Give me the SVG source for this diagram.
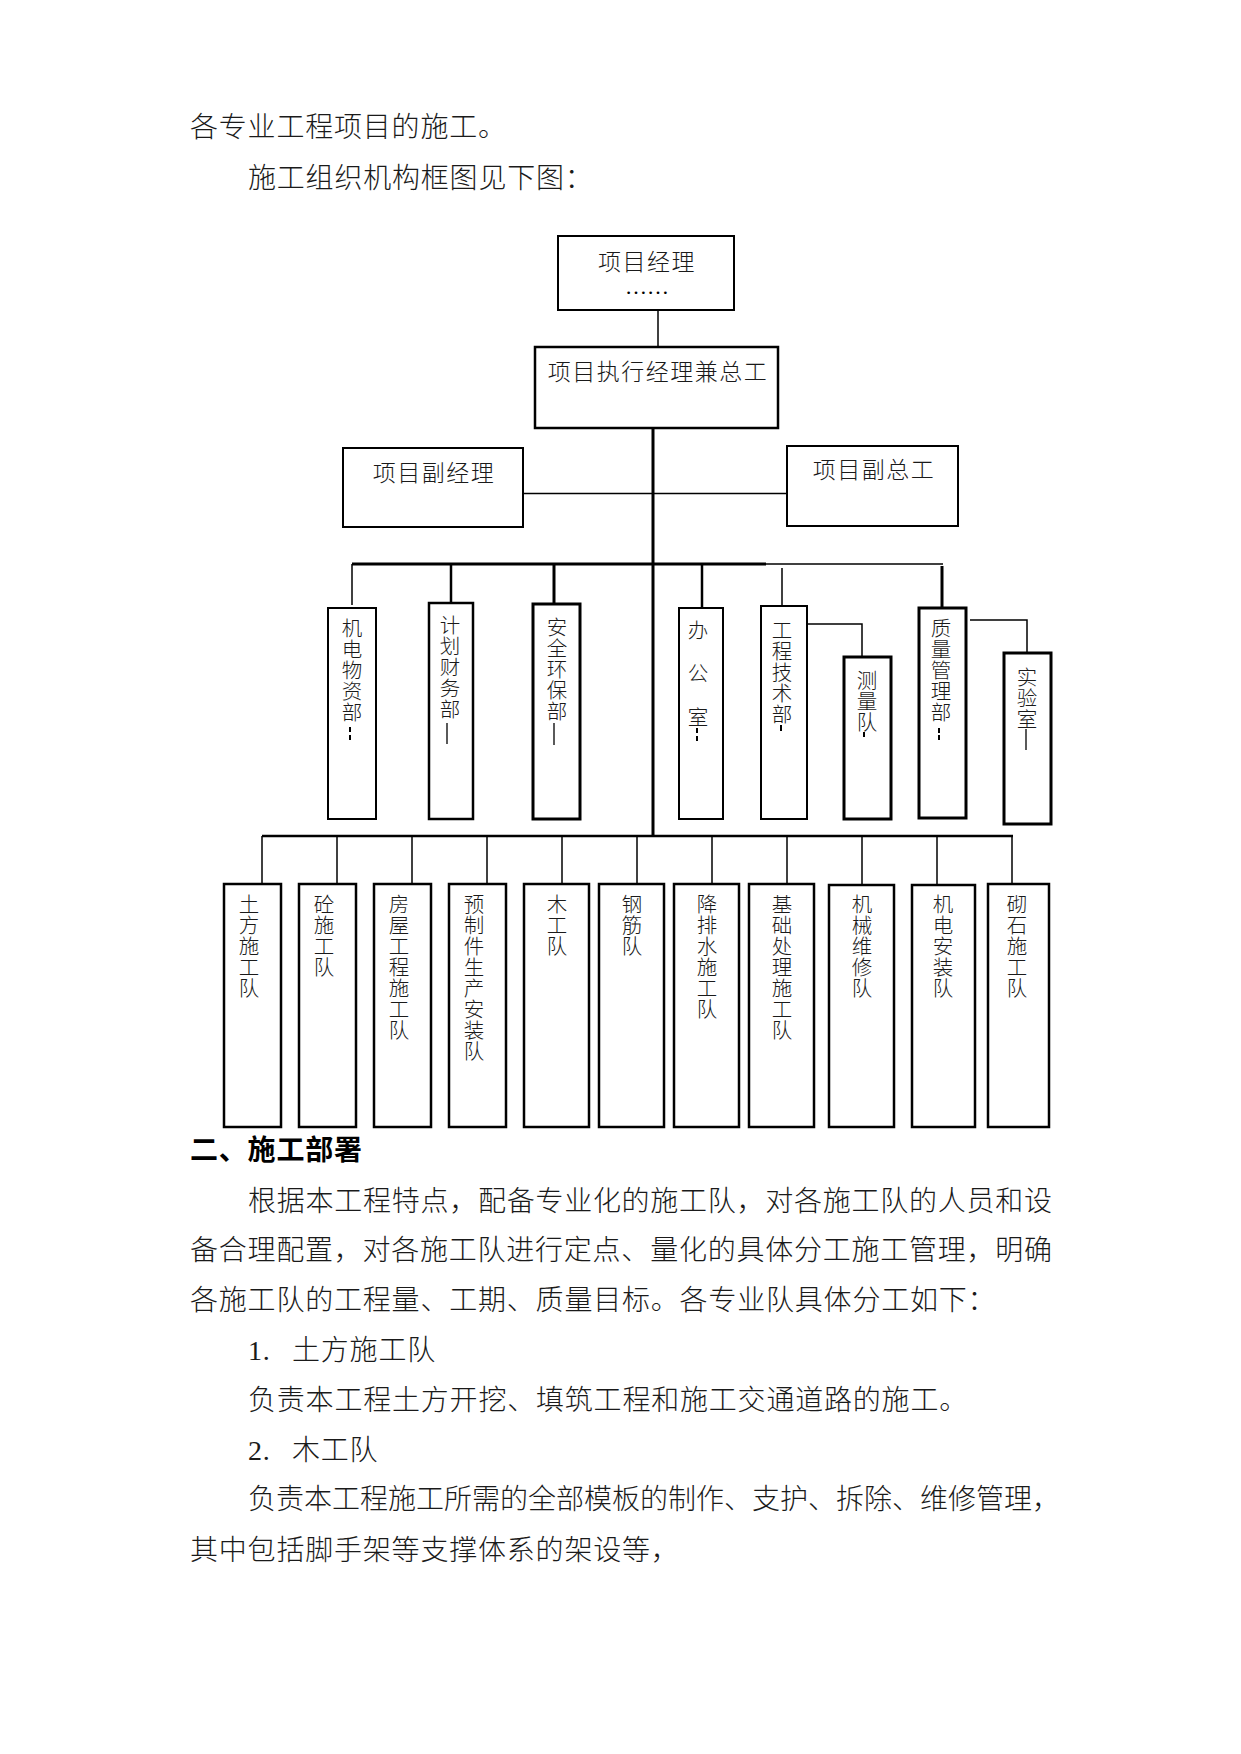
<svg xmlns="http://www.w3.org/2000/svg" width="1241" height="1754" viewBox="0 0 1241 1754">
<style>
.bg{fill:#fff}
.box{fill:#fff;stroke:#000;stroke-width:2}
.b25{stroke-width:2.5}
.b3{stroke-width:3}
.ln{fill:none;stroke:#000;stroke-width:1.5}
.lt{fill:none;stroke:#000;stroke-width:3}
.lm{fill:none;stroke:#000;stroke-width:2.5}
.mk{stroke:#000;stroke-width:2}
.t{font-family:"Liberation Serif","Noto Sans CJK SC",serif;fill:#1a1a1a;font-weight:300}
.body{font-size:28px;letter-spacing:0.8px}
.hd{font-size:28px;font-weight:700;fill:#000;letter-spacing:0.8px}
.bx{font-size:23px;letter-spacing:1.5px;text-anchor:middle}
.v{font-size:20.5px;text-anchor:middle}
</style>
<rect class="bg" x="0" y="0" width="1241" height="1754"/>

<!-- body text -->
<text class="t body" x="190" y="137">各专业工程项目的施工。</text>
<text class="t body" x="248" y="188">施工组织机构框图见下图：</text>
<text class="t hd" x="190" y="1160">二、施工部署</text>
<text class="t body" x="248" y="1211" textLength="804" lengthAdjust="spacing" style="letter-spacing:0">根据本工程特点，配备专业化的施工队，对各施工队的人员和设</text>
<text class="t body" x="190" y="1260" textLength="862" lengthAdjust="spacing" style="letter-spacing:0">备合理配置，对各施工队进行定点、量化的具体分工施工管理，明确</text>
<text class="t body" x="190" y="1310">各施工队的工程量、工期、质量目标。各专业队具体分工如下：</text>
<text class="t body" x="248" y="1360">1.</text>
<text class="t body" x="292" y="1360">土方施工队</text>
<text class="t body" x="248" y="1410">负责本工程土方开挖、填筑工程和施工交通道路的施工。</text>
<text class="t body" x="248" y="1460">2.</text>
<text class="t body" x="292" y="1460">木工队</text>
<text class="t body" x="248" y="1509" textLength="812" lengthAdjust="spacing" style="letter-spacing:0">负责本工程施工所需的全部模板的制作、支护、拆除、维修管理，</text>
<text class="t body" x="190" y="1560">其中包括脚手架等支撑体系的架设等，</text>

<!-- connectors -->
<g id="connectors">
<line class="ln" x1="658" y1="310" x2="658" y2="347"/>
<line class="lt" x1="653" y1="428" x2="653" y2="837"/>
<line class="ln" x1="523" y1="493.5" x2="787" y2="493.5"/>
<line class="lt" x1="352" y1="564" x2="766" y2="564"/>
<line class="ln" x1="766" y1="564" x2="943" y2="564"/>
<line class="ln" x1="352" y1="564" x2="352" y2="605"/>
<line class="lm" x1="451" y1="564" x2="451" y2="603"/>
<line class="lt" x1="554" y1="564" x2="554" y2="604"/>
<line class="lm" x1="702" y1="564" x2="702" y2="608"/>
<line class="ln" x1="782" y1="568" x2="782" y2="606"/>
<line class="lt" x1="942" y1="566" x2="942" y2="608"/>
<polyline class="ln" points="807,624 862,624 862,657"/>
<polyline class="ln" points="970,620 1027,620 1027,653"/>
<line class="lm" x1="262" y1="836" x2="1013" y2="836"/>
<line class="ln" x1="262" y1="836" x2="262" y2="884"/>
<line class="ln" x1="337" y1="836" x2="337" y2="884"/>
<line class="ln" x1="412" y1="836" x2="412" y2="884"/>
<line class="ln" x1="487" y1="836" x2="487" y2="884"/>
<line class="ln" x1="562" y1="836" x2="562" y2="884"/>
<line class="ln" x1="637" y1="836" x2="637" y2="884"/>
<line class="ln" x1="712" y1="836" x2="712" y2="884"/>
<line class="ln" x1="787" y1="836" x2="787" y2="884"/>
<line class="ln" x1="862" y1="836" x2="862" y2="884"/>
<line class="ln" x1="937" y1="836" x2="937" y2="884"/>
<line class="ln" x1="1012" y1="836" x2="1012" y2="884"/>
</g>

<!-- top nodes -->
<g id="n-pm">
<rect class="box" x="558" y="236" width="176" height="74"/>
<text class="t bx" x="647" y="270">项目经理</text>
<text x="625" y="294" style="font-family:'Liberation Serif',serif;font-size:22px;fill:#000">……</text>
</g>
<g id="n-exec">
<rect class="box b25" x="535" y="347" width="243" height="81"/>
<text class="t bx" x="658" y="380">项目执行经理兼总工</text>
</g>
<g id="n-vpm">
<rect class="box" x="343" y="448" width="180" height="79"/>
<text class="t bx" x="434" y="481">项目副经理</text>
</g>
<g id="n-vce">
<rect class="box" x="787" y="446" width="171" height="80"/>
<text class="t bx" x="874" y="478">项目副总工</text>
</g>

<!-- departments -->
<g id="d1">
<rect class="box" x="328" y="608" width="48" height="211"/>
<text class="t v"><tspan x="352" y="636">机</tspan><tspan x="352" y="657">电</tspan><tspan x="352" y="678">物</tspan><tspan x="352" y="699">资</tspan><tspan x="352" y="720">部</tspan></text>
<line class="mk" x1="350" y1="727" x2="350" y2="732"/><line class="mk" x1="350" y1="735" x2="350" y2="740"/>
</g>
<g id="d2">
<rect class="box b25" x="429" y="603" width="44" height="216"/>
<text class="t v"><tspan x="450" y="633">计</tspan><tspan x="450" y="654">划</tspan><tspan x="450" y="675">财</tspan><tspan x="450" y="696">务</tspan><tspan x="450" y="717">部</tspan></text>
<line class="mk" x1="447" y1="723" x2="447" y2="744" style="stroke-width:1.3"/>
</g>
<g id="d3">
<rect class="box b3" x="533" y="604" width="47" height="215"/>
<text class="t v"><tspan x="557" y="635">安</tspan><tspan x="557" y="656">全</tspan><tspan x="557" y="677">环</tspan><tspan x="557" y="698">保</tspan><tspan x="557" y="719">部</tspan></text>
<line class="mk" x1="554" y1="723" x2="554" y2="745" style="stroke-width:1.3"/>
</g>
<g id="d4">
<rect class="box" x="679" y="608" width="44" height="211"/>
<text class="t v"><tspan x="698" y="638">办</tspan><tspan x="698" y="681">公</tspan><tspan x="698" y="725">室</tspan></text>
<line class="mk" x1="697" y1="728" x2="697" y2="733"/><line class="mk" x1="697" y1="736" x2="697" y2="741"/>
</g>
<g id="d5">
<rect class="box" x="761" y="606" width="46" height="213"/>
<text class="t v"><tspan x="782" y="638">工</tspan><tspan x="782" y="659">程</tspan><tspan x="782" y="680">技</tspan><tspan x="782" y="701">术</tspan><tspan x="782" y="722">部</tspan></text>
<line class="mk" x1="781" y1="725" x2="781" y2="731"/>
</g>
<g id="d6">
<rect class="box b3" x="844" y="657" width="47" height="162"/>
<text class="t v"><tspan x="867" y="688">测</tspan><tspan x="867" y="709">量</tspan><tspan x="867" y="730">队</tspan></text>
<line class="mk" x1="864" y1="732" x2="864" y2="737"/>
</g>
<g id="d7">
<rect class="box b3" x="919" y="608" width="47" height="210"/>
<text class="t v"><tspan x="941" y="636">质</tspan><tspan x="941" y="657">量</tspan><tspan x="941" y="678">管</tspan><tspan x="941" y="699">理</tspan><tspan x="941" y="720">部</tspan></text>
<line class="mk" x1="939" y1="728" x2="939" y2="733"/><line class="mk" x1="939" y1="735" x2="939" y2="740"/>
</g>
<g id="d8">
<rect class="box b3" x="1004" y="653" width="47" height="171"/>
<text class="t v"><tspan x="1027" y="685">实</tspan><tspan x="1027" y="706">验</tspan><tspan x="1027" y="727">室</tspan></text>
<line class="mk" x1="1026" y1="729" x2="1026" y2="750" style="stroke-width:1.3"/>
</g>

<!-- teams -->
<g id="t1"><rect class="box b25" x="224" y="884" width="57" height="243"/>
<text class="t v"><tspan x="249" y="912">土</tspan><tspan x="249" y="933">方</tspan><tspan x="249" y="954">施</tspan><tspan x="249" y="975">工</tspan><tspan x="249" y="996">队</tspan></text></g>
<g id="t2"><rect class="box b25" x="299" y="884" width="57" height="243"/>
<text class="t v"><tspan x="324" y="912">砼</tspan><tspan x="324" y="933">施</tspan><tspan x="324" y="954">工</tspan><tspan x="324" y="975">队</tspan></text></g>
<g id="t3"><rect class="box b25" x="374" y="884" width="57" height="243"/>
<text class="t v"><tspan x="399" y="912">房</tspan><tspan x="399" y="933">屋</tspan><tspan x="399" y="954">工</tspan><tspan x="399" y="975">程</tspan><tspan x="399" y="996">施</tspan><tspan x="399" y="1017">工</tspan><tspan x="399" y="1038">队</tspan></text></g>
<g id="t4"><rect class="box b25" x="449" y="884" width="57" height="243"/>
<text class="t v"><tspan x="474" y="912">预</tspan><tspan x="474" y="933">制</tspan><tspan x="474" y="954">件</tspan><tspan x="474" y="975">生</tspan><tspan x="474" y="996">产</tspan><tspan x="474" y="1017">安</tspan><tspan x="474" y="1038">装</tspan><tspan x="474" y="1059">队</tspan></text></g>
<g id="t5"><rect class="box b25" x="524" y="884" width="65" height="243"/>
<text class="t v"><tspan x="557" y="912">木</tspan><tspan x="557" y="933">工</tspan><tspan x="557" y="954">队</tspan></text></g>
<g id="t6"><rect class="box b25" x="599" y="884" width="65" height="243"/>
<text class="t v"><tspan x="632" y="912">钢</tspan><tspan x="632" y="933">筋</tspan><tspan x="632" y="954">队</tspan></text></g>
<g id="t7"><rect class="box b25" x="674" y="884" width="65" height="243"/>
<text class="t v"><tspan x="707" y="912">降</tspan><tspan x="707" y="933">排</tspan><tspan x="707" y="954">水</tspan><tspan x="707" y="975">施</tspan><tspan x="707" y="996">工</tspan><tspan x="707" y="1017">队</tspan></text></g>
<g id="t8"><rect class="box b25" x="749" y="884" width="65" height="243"/>
<text class="t v"><tspan x="782" y="912">基</tspan><tspan x="782" y="933">础</tspan><tspan x="782" y="954">处</tspan><tspan x="782" y="975">理</tspan><tspan x="782" y="996">施</tspan><tspan x="782" y="1017">工</tspan><tspan x="782" y="1038">队</tspan></text></g>
<g id="t9"><rect class="box b25" x="829" y="885" width="65" height="242"/>
<text class="t v"><tspan x="862" y="912">机</tspan><tspan x="862" y="933">械</tspan><tspan x="862" y="954">维</tspan><tspan x="862" y="975">修</tspan><tspan x="862" y="996">队</tspan></text></g>
<g id="t10"><rect class="box b25" x="912" y="885" width="63" height="242"/>
<text class="t v"><tspan x="943" y="912">机</tspan><tspan x="943" y="933">电</tspan><tspan x="943" y="954">安</tspan><tspan x="943" y="975">装</tspan><tspan x="943" y="996">队</tspan></text></g>
<g id="t11"><rect class="box b25" x="988" y="884" width="61" height="243"/>
<text class="t v"><tspan x="1017" y="912">砌</tspan><tspan x="1017" y="933">石</tspan><tspan x="1017" y="954">施</tspan><tspan x="1017" y="975">工</tspan><tspan x="1017" y="996">队</tspan></text></g>
</svg>
